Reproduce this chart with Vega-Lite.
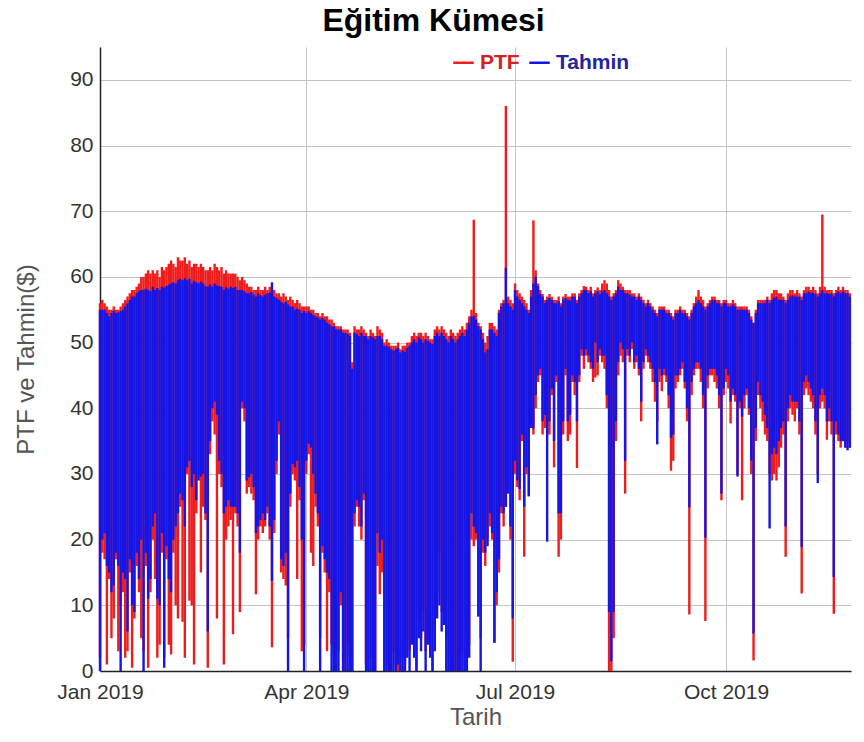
{
  "$schema": "https://vega.github.io/schema/vega-lite/v6.json",
  "width": 751,
  "height": 624,
  "autosize": {"type": "none"},
  "padding": {"left": 100, "top": 47, "right": 13, "bottom": 71},
  "background": "white",
  "config": {"font": "Liberation Sans", "view": {"stroke": null}},
  "title": {"text": "Eğitim Kümesi", "fontSize": 32, "fontWeight": "bold", "color": "#000000", "anchor": "middle", "dx": -42, "offset": 9},
  "data": {"values": [
    {"d":"2019-01-01","ph":56,"pl":2,"th":55,"tl":0},
    {"d":"2019-01-02","ph":56.5,"pl":18,"th":55,"tl":20},
    {"d":"2019-01-03","ph":56,"pl":17,"th":55,"tl":21},
    {"d":"2019-01-04","ph":55.5,"pl":1,"th":54.5,"tl":16},
    {"d":"2019-01-05","ph":55,"pl":14,"th":54,"tl":15},
    {"d":"2019-01-06","ph":55,"pl":5,"th":54.5,"tl":12},
    {"d":"2019-01-07","ph":55.5,"pl":8,"th":54.8,"tl":13},
    {"d":"2019-01-08","ph":55,"pl":17,"th":54.5,"tl":18},
    {"d":"2019-01-09","ph":55,"pl":3,"th":54.6,"tl":16},
    {"d":"2019-01-10","ph":55.5,"pl":10,"th":54.8,"tl":0},
    {"d":"2019-01-11","ph":56,"pl":12,"th":55,"tl":15},
    {"d":"2019-01-12","ph":56.5,"pl":2,"th":55.5,"tl":14},
    {"d":"2019-01-13","ph":57,"pl":3,"th":56,"tl":6},
    {"d":"2019-01-14","ph":57.5,"pl":15,"th":56.5,"tl":17},
    {"d":"2019-01-15","ph":58,"pl":0.5,"th":57,"tl":10},
    {"d":"2019-01-16","ph":58,"pl":8,"th":57,"tl":9},
    {"d":"2019-01-17","ph":58.5,"pl":16,"th":57.5,"tl":18},
    {"d":"2019-01-18","ph":59,"pl":12,"th":57.8,"tl":14},
    {"d":"2019-01-19","ph":60,"pl":5,"th":58,"tl":20},
    {"d":"2019-01-20","ph":60,"pl":3,"th":58,"tl":0},
    {"d":"2019-01-21","ph":60.5,"pl":16,"th":58.2,"tl":18},
    {"d":"2019-01-22","ph":61,"pl":0.5,"th":58,"tl":11},
    {"d":"2019-01-23","ph":60.5,"pl":12,"th":57.8,"tl":14},
    {"d":"2019-01-24","ph":61,"pl":20,"th":58.5,"tl":22},
    {"d":"2019-01-25","ph":60.5,"pl":14,"th":58,"tl":24},
    {"d":"2019-01-26","ph":61,"pl":2,"th":58.3,"tl":11},
    {"d":"2019-01-27","ph":60,"pl":4,"th":58,"tl":10},
    {"d":"2019-01-28","ph":61.5,"pl":18,"th":58.5,"tl":21},
    {"d":"2019-01-29","ph":61,"pl":2,"th":58.4,"tl":0.5},
    {"d":"2019-01-30","ph":61.5,"pl":17,"th":58.6,"tl":19},
    {"d":"2019-01-31","ph":62,"pl":4,"th":58.8,"tl":14},
    {"d":"2019-02-01","ph":62.5,"pl":2.5,"th":59,"tl":12},
    {"d":"2019-02-02","ph":62,"pl":18,"th":59.2,"tl":20},
    {"d":"2019-02-03","ph":61.5,"pl":10,"th":59,"tl":22},
    {"d":"2019-02-04","ph":63,"pl":8,"th":59.5,"tl":24},
    {"d":"2019-02-05","ph":62.5,"pl":25,"th":59.7,"tl":27},
    {"d":"2019-02-06","ph":62.5,"pl":7.5,"th":59.5,"tl":26},
    {"d":"2019-02-07","ph":63,"pl":2,"th":59.8,"tl":22},
    {"d":"2019-02-08","ph":62,"pl":30,"th":59.5,"tl":31},
    {"d":"2019-02-09","ph":62.5,"pl":10.7,"th":59.7,"tl":32},
    {"d":"2019-02-10","ph":61.5,"pl":10,"th":59,"tl":28},
    {"d":"2019-02-11","ph":62,"pl":1,"th":59.4,"tl":30},
    {"d":"2019-02-12","ph":62,"pl":24,"th":59.2,"tl":26},
    {"d":"2019-02-13","ph":61.5,"pl":30,"th":59,"tl":29},
    {"d":"2019-02-14","ph":62,"pl":15,"th":59.3,"tl":29.6},
    {"d":"2019-02-15","ph":61.5,"pl":25,"th":59,"tl":30},
    {"d":"2019-02-16","ph":61,"pl":23,"th":58.6,"tl":24},
    {"d":"2019-02-17","ph":61,"pl":0.5,"th":58.5,"tl":6},
    {"d":"2019-02-18","ph":61.5,"pl":33,"th":58.8,"tl":35},
    {"d":"2019-02-19","ph":61,"pl":38,"th":58.5,"tl":40},
    {"d":"2019-02-20","ph":62,"pl":36,"th":59,"tl":41},
    {"d":"2019-02-21","ph":61.5,"pl":8,"th":58.7,"tl":39},
    {"d":"2019-02-22","ph":61,"pl":30,"th":58.6,"tl":32},
    {"d":"2019-02-23","ph":61.5,"pl":28,"th":58.5,"tl":30},
    {"d":"2019-02-24","ph":60.5,"pl":1,"th":58,"tl":24},
    {"d":"2019-02-25","ph":61,"pl":20,"th":58.4,"tl":25},
    {"d":"2019-02-26","ph":60.5,"pl":22,"th":58.2,"tl":26},
    {"d":"2019-02-27","ph":60.5,"pl":23,"th":58.5,"tl":25},
    {"d":"2019-02-28","ph":60.5,"pl":5.6,"th":58.3,"tl":25},
    {"d":"2019-03-01","ph":60.5,"pl":24,"th":58.5,"tl":25},
    {"d":"2019-03-02","ph":60,"pl":22,"th":58,"tl":24},
    {"d":"2019-03-03","ph":59.5,"pl":9,"th":58,"tl":18},
    {"d":"2019-03-04","ph":60,"pl":40,"th":58,"tl":41},
    {"d":"2019-03-05","ph":59.5,"pl":38,"th":57.8,"tl":40},
    {"d":"2019-03-06","ph":59,"pl":27,"th":57.5,"tl":29},
    {"d":"2019-03-07","ph":58.5,"pl":28,"th":57.5,"tl":29.5},
    {"d":"2019-03-08","ph":58.5,"pl":27,"th":57.7,"tl":30},
    {"d":"2019-03-09","ph":58,"pl":26,"th":57.3,"tl":28},
    {"d":"2019-03-10","ph":58,"pl":11.7,"th":57,"tl":21},
    {"d":"2019-03-11","ph":58.5,"pl":20,"th":57.5,"tl":22},
    {"d":"2019-03-12","ph":58,"pl":22,"th":57.2,"tl":23},
    {"d":"2019-03-13","ph":58,"pl":21,"th":57,"tl":24},
    {"d":"2019-03-14","ph":58.5,"pl":22,"th":57.3,"tl":23},
    {"d":"2019-03-15","ph":58,"pl":24,"th":57.5,"tl":25},
    {"d":"2019-03-16","ph":58.5,"pl":20,"th":57.6,"tl":22},
    {"d":"2019-03-17","ph":58,"pl":3.6,"th":59.2,"tl":13.7},
    {"d":"2019-03-18","ph":58,"pl":21,"th":57,"tl":23},
    {"d":"2019-03-19","ph":57.5,"pl":30,"th":56.8,"tl":32},
    {"d":"2019-03-20","ph":57.5,"pl":36,"th":56.5,"tl":38},
    {"d":"2019-03-21","ph":57,"pl":15,"th":56.2,"tl":17},
    {"d":"2019-03-22","ph":57.5,"pl":14,"th":56,"tl":16},
    {"d":"2019-03-23","ph":57,"pl":13,"th":56.2,"tl":18},
    {"d":"2019-03-24","ph":56.5,"pl":5,"th":55.8,"tl":0},
    {"d":"2019-03-25","ph":57,"pl":25,"th":55.5,"tl":27},
    {"d":"2019-03-26","ph":56.5,"pl":30,"th":55.5,"tl":31.5},
    {"d":"2019-03-27","ph":56,"pl":29,"th":55,"tl":31},
    {"d":"2019-03-28","ph":56.5,"pl":14,"th":55.2,"tl":32},
    {"d":"2019-03-29","ph":56,"pl":26,"th":55,"tl":28},
    {"d":"2019-03-30","ph":55.5,"pl":3,"th":54.5,"tl":20},
    {"d":"2019-03-31","ph":55.5,"pl":4,"th":54.8,"tl":0},
    {"d":"2019-04-01","ph":55.5,"pl":30,"th":54.5,"tl":32},
    {"d":"2019-04-02","ph":55.5,"pl":33,"th":54.8,"tl":34.6},
    {"d":"2019-04-03","ph":55,"pl":18,"th":54.5,"tl":34},
    {"d":"2019-04-04","ph":55,"pl":16,"th":54.2,"tl":30},
    {"d":"2019-04-05","ph":54.5,"pl":25,"th":54,"tl":27},
    {"d":"2019-04-06","ph":54.5,"pl":22,"th":53.8,"tl":24},
    {"d":"2019-04-07","ph":54,"pl":5,"th":53.5,"tl":0},
    {"d":"2019-04-08","ph":54.5,"pl":18,"th":53.8,"tl":19},
    {"d":"2019-04-09","ph":54,"pl":15,"th":53.5,"tl":17},
    {"d":"2019-04-10","ph":54,"pl":3,"th":53,"tl":15},
    {"d":"2019-04-11","ph":53.5,"pl":12,"th":52.8,"tl":14},
    {"d":"2019-04-12","ph":53.5,"pl":4,"th":52.5,"tl":0},
    {"d":"2019-04-13","ph":53,"pl":2,"th":52.5,"tl":0},
    {"d":"2019-04-14","ph":52.5,"pl":0,"th":52,"tl":0},
    {"d":"2019-04-15","ph":52.5,"pl":3,"th":52,"tl":0},
    {"d":"2019-04-16","ph":52.5,"pl":10,"th":52,"tl":12},
    {"d":"2019-04-17","ph":52,"pl":2,"th":51.5,"tl":0},
    {"d":"2019-04-18","ph":52,"pl":0,"th":51.5,"tl":0},
    {"d":"2019-04-19","ph":52,"pl":4,"th":51.3,"tl":0},
    {"d":"2019-04-20","ph":51.5,"pl":3,"th":51,"tl":0},
    {"d":"2019-04-21","ph":47,"pl":0,"th":46,"tl":0},
    {"d":"2019-04-22","ph":52.5,"pl":22,"th":51.5,"tl":24},
    {"d":"2019-04-23","ph":52,"pl":25,"th":51.3,"tl":26},
    {"d":"2019-04-24","ph":52,"pl":22,"th":51,"tl":25},
    {"d":"2019-04-25","ph":52.5,"pl":20,"th":51.5,"tl":22},
    {"d":"2019-04-26","ph":52,"pl":26,"th":51,"tl":27},
    {"d":"2019-04-27","ph":51.5,"pl":1,"th":51,"tl":0},
    {"d":"2019-04-28","ph":51,"pl":0,"th":50.5,"tl":0},
    {"d":"2019-04-29","ph":52,"pl":2,"th":51,"tl":0},
    {"d":"2019-04-30","ph":51.5,"pl":0,"th":50.8,"tl":0},
    {"d":"2019-05-01","ph":51,"pl":0,"th":50.5,"tl":0},
    {"d":"2019-05-02","ph":52.5,"pl":16,"th":51,"tl":21},
    {"d":"2019-05-03","ph":52,"pl":11.7,"th":51,"tl":18},
    {"d":"2019-05-04","ph":51.5,"pl":15,"th":50.5,"tl":20},
    {"d":"2019-05-05","ph":50,"pl":0,"th":49.5,"tl":0},
    {"d":"2019-05-06","ph":50.5,"pl":1,"th":49.5,"tl":0},
    {"d":"2019-05-07","ph":50,"pl":2,"th":49.3,"tl":0},
    {"d":"2019-05-08","ph":49.5,"pl":0,"th":49,"tl":0},
    {"d":"2019-05-09","ph":49.5,"pl":3,"th":48.8,"tl":0},
    {"d":"2019-05-10","ph":49.5,"pl":1,"th":49,"tl":0},
    {"d":"2019-05-11","ph":50,"pl":0,"th":49.2,"tl":1},
    {"d":"2019-05-12","ph":49,"pl":0,"th":48.5,"tl":0},
    {"d":"2019-05-13","ph":49.5,"pl":2,"th":48.8,"tl":0},
    {"d":"2019-05-14","ph":49.5,"pl":1,"th":48.6,"tl":0},
    {"d":"2019-05-15","ph":50,"pl":5,"th":49.2,"tl":2},
    {"d":"2019-05-16","ph":50,"pl":3,"th":49.5,"tl":0},
    {"d":"2019-05-17","ph":51,"pl":6,"th":50,"tl":4},
    {"d":"2019-05-18","ph":51.5,"pl":4,"th":50.5,"tl":2},
    {"d":"2019-05-19","ph":51,"pl":0,"th":50,"tl":0},
    {"d":"2019-05-20","ph":51.5,"pl":8,"th":50.8,"tl":5},
    {"d":"2019-05-21","ph":51.5,"pl":5,"th":50.5,"tl":3},
    {"d":"2019-05-22","ph":51,"pl":9,"th":50,"tl":6},
    {"d":"2019-05-23","ph":51.5,"pl":3,"th":50.5,"tl":0},
    {"d":"2019-05-24","ph":51,"pl":7,"th":50.2,"tl":4},
    {"d":"2019-05-25","ph":50.5,"pl":4,"th":50,"tl":2},
    {"d":"2019-05-26","ph":50.5,"pl":0,"th":49.8,"tl":0},
    {"d":"2019-05-27","ph":52,"pl":6,"th":51,"tl":3},
    {"d":"2019-05-28","ph":52.5,"pl":12,"th":51.5,"tl":8},
    {"d":"2019-05-29","ph":52,"pl":18,"th":51,"tl":10},
    {"d":"2019-05-30","ph":52.5,"pl":9,"th":51.5,"tl":6},
    {"d":"2019-05-31","ph":52,"pl":14,"th":51,"tl":7},
    {"d":"2019-06-01","ph":51.5,"pl":5,"th":50.5,"tl":0},
    {"d":"2019-06-02","ph":51,"pl":0,"th":50,"tl":0},
    {"d":"2019-06-03","ph":52,"pl":2,"th":51,"tl":0},
    {"d":"2019-06-04","ph":51.5,"pl":0,"th":50.5,"tl":0},
    {"d":"2019-06-05","ph":51,"pl":0,"th":50,"tl":0},
    {"d":"2019-06-06","ph":51.5,"pl":0,"th":50.5,"tl":0},
    {"d":"2019-06-07","ph":52,"pl":1,"th":51,"tl":0},
    {"d":"2019-06-08","ph":52.5,"pl":3,"th":51.5,"tl":0},
    {"d":"2019-06-09","ph":52,"pl":0,"th":51,"tl":0},
    {"d":"2019-06-10","ph":53,"pl":3,"th":52,"tl":0},
    {"d":"2019-06-11","ph":54,"pl":4,"th":53,"tl":2},
    {"d":"2019-06-12","ph":55,"pl":20,"th":54,"tl":24},
    {"d":"2019-06-13","ph":68.7,"pl":19,"th":54,"tl":22},
    {"d":"2019-06-14","ph":54.5,"pl":20,"th":53.5,"tl":21},
    {"d":"2019-06-15","ph":53,"pl":8.3,"th":52.5,"tl":8.3},
    {"d":"2019-06-16","ph":52.5,"pl":5,"th":52,"tl":0},
    {"d":"2019-06-17","ph":51.5,"pl":18,"th":50.5,"tl":20},
    {"d":"2019-06-18","ph":50,"pl":16,"th":48.5,"tl":18},
    {"d":"2019-06-19","ph":51,"pl":20,"th":49,"tl":19},
    {"d":"2019-06-20","ph":53,"pl":22,"th":52,"tl":24},
    {"d":"2019-06-21","ph":53,"pl":20,"th":52,"tl":21},
    {"d":"2019-06-22","ph":52.5,"pl":4.3,"th":51.5,"tl":4.3},
    {"d":"2019-06-23","ph":52,"pl":10,"th":51,"tl":12},
    {"d":"2019-06-24","ph":55,"pl":15,"th":54.5,"tl":17},
    {"d":"2019-06-25","ph":56,"pl":24,"th":55.5,"tl":25},
    {"d":"2019-06-26","ph":56.5,"pl":22,"th":56,"tl":24},
    {"d":"2019-06-27","ph":86,"pl":25,"th":61.4,"tl":25},
    {"d":"2019-06-28","ph":57,"pl":28,"th":56,"tl":27},
    {"d":"2019-06-29","ph":56.5,"pl":20,"th":55.5,"tl":22},
    {"d":"2019-06-30","ph":56,"pl":1.4,"th":55,"tl":8},
    {"d":"2019-07-01","ph":59,"pl":30,"th":58,"tl":32},
    {"d":"2019-07-02","ph":58,"pl":28,"th":57,"tl":29},
    {"d":"2019-07-03","ph":57.5,"pl":26,"th":56.5,"tl":27.7},
    {"d":"2019-07-04","ph":57,"pl":35,"th":56,"tl":36},
    {"d":"2019-07-05","ph":56.5,"pl":17.4,"th":55.5,"tl":25},
    {"d":"2019-07-06","ph":56,"pl":30,"th":55,"tl":31},
    {"d":"2019-07-07","ph":55,"pl":26.6,"th":54.5,"tl":26.6},
    {"d":"2019-07-08","ph":58,"pl":38,"th":57,"tl":37},
    {"d":"2019-07-09","ph":68.6,"pl":36,"th":59,"tl":36.9},
    {"d":"2019-07-10","ph":61,"pl":40,"th":60,"tl":42},
    {"d":"2019-07-11","ph":59,"pl":44,"th":58.6,"tl":45},
    {"d":"2019-07-12","ph":58,"pl":45,"th":57.4,"tl":46},
    {"d":"2019-07-13","ph":57.4,"pl":36,"th":57,"tl":38},
    {"d":"2019-07-14","ph":56.5,"pl":37,"th":56,"tl":39},
    {"d":"2019-07-15","ph":57,"pl":36,"th":56.5,"tl":19.7},
    {"d":"2019-07-16","ph":57.4,"pl":36,"th":56.8,"tl":38},
    {"d":"2019-07-17","ph":57,"pl":42,"th":56.5,"tl":43},
    {"d":"2019-07-18","ph":56.5,"pl":31,"th":56,"tl":35},
    {"d":"2019-07-19","ph":56.5,"pl":44,"th":56,"tl":45},
    {"d":"2019-07-20","ph":57,"pl":17.4,"th":56.3,"tl":24},
    {"d":"2019-07-21","ph":56,"pl":20,"th":55.5,"tl":24},
    {"d":"2019-07-22","ph":57,"pl":36,"th":56.5,"tl":38},
    {"d":"2019-07-23","ph":57.4,"pl":45,"th":56.8,"tl":46},
    {"d":"2019-07-24","ph":57,"pl":35,"th":56.5,"tl":38},
    {"d":"2019-07-25","ph":57,"pl":36,"th":56.4,"tl":39},
    {"d":"2019-07-26","ph":57.5,"pl":44,"th":57,"tl":45},
    {"d":"2019-07-27","ph":57.5,"pl":42,"th":57,"tl":44},
    {"d":"2019-07-28","ph":56.5,"pl":30.9,"th":56,"tl":38},
    {"d":"2019-07-29","ph":57.5,"pl":44,"th":57,"tl":45},
    {"d":"2019-07-30","ph":58,"pl":48,"th":57.5,"tl":49},
    {"d":"2019-07-31","ph":58.6,"pl":46,"th":58,"tl":48},
    {"d":"2019-08-01","ph":58.5,"pl":48,"th":58,"tl":49},
    {"d":"2019-08-02","ph":58,"pl":47,"th":57.5,"tl":48},
    {"d":"2019-08-03","ph":58.5,"pl":46,"th":57.8,"tl":47},
    {"d":"2019-08-04","ph":57.5,"pl":44,"th":57,"tl":46},
    {"d":"2019-08-05","ph":58,"pl":44.7,"th":57.5,"tl":50},
    {"d":"2019-08-06","ph":58.4,"pl":45,"th":57.8,"tl":47},
    {"d":"2019-08-07","ph":58,"pl":48,"th":57.4,"tl":49},
    {"d":"2019-08-08","ph":59,"pl":47,"th":57.8,"tl":48},
    {"d":"2019-08-09","ph":59.5,"pl":46,"th":58,"tl":48},
    {"d":"2019-08-10","ph":59,"pl":40,"th":57.5,"tl":42},
    {"d":"2019-08-11","ph":58,"pl":0,"th":57,"tl":9},
    {"d":"2019-08-12","ph":57,"pl":0,"th":56.5,"tl":1.5},
    {"d":"2019-08-13","ph":57.5,"pl":5,"th":57,"tl":9},
    {"d":"2019-08-14","ph":58,"pl":35,"th":57.5,"tl":38},
    {"d":"2019-08-15","ph":59.5,"pl":45,"th":58.5,"tl":47},
    {"d":"2019-08-16","ph":59,"pl":48,"th":58,"tl":50},
    {"d":"2019-08-17","ph":58.5,"pl":47,"th":58,"tl":49},
    {"d":"2019-08-18","ph":58,"pl":27,"th":57.5,"tl":32},
    {"d":"2019-08-19","ph":58,"pl":48,"th":57.5,"tl":49},
    {"d":"2019-08-20","ph":58,"pl":47,"th":57.3,"tl":48},
    {"d":"2019-08-21","ph":57.5,"pl":49,"th":57,"tl":50},
    {"d":"2019-08-22","ph":57.5,"pl":46,"th":57,"tl":47},
    {"d":"2019-08-23","ph":57,"pl":47,"th":56.5,"tl":48},
    {"d":"2019-08-24","ph":57.5,"pl":45,"th":57,"tl":46},
    {"d":"2019-08-25","ph":57,"pl":38,"th":56.5,"tl":41},
    {"d":"2019-08-26","ph":56.5,"pl":46,"th":56,"tl":47},
    {"d":"2019-08-27","ph":56,"pl":48,"th":55.5,"tl":49},
    {"d":"2019-08-28","ph":56.5,"pl":47,"th":56,"tl":48},
    {"d":"2019-08-29","ph":56,"pl":46,"th":55.5,"tl":47},
    {"d":"2019-08-30","ph":55.5,"pl":44,"th":55,"tl":46},
    {"d":"2019-08-31","ph":55,"pl":41,"th":54.5,"tl":44},
    {"d":"2019-09-01","ph":54.5,"pl":38,"th":54,"tl":34.5},
    {"d":"2019-09-02","ph":55.5,"pl":44,"th":55,"tl":46},
    {"d":"2019-09-03","ph":55.5,"pl":42.6,"th":55,"tl":45},
    {"d":"2019-09-04","ph":55.5,"pl":45,"th":55,"tl":46},
    {"d":"2019-09-05","ph":55,"pl":44,"th":54.5,"tl":45},
    {"d":"2019-09-06","ph":55,"pl":40,"th":54.5,"tl":42},
    {"d":"2019-09-07","ph":54.5,"pl":30.5,"th":54,"tl":35.5},
    {"d":"2019-09-08","ph":54,"pl":32,"th":53.5,"tl":36},
    {"d":"2019-09-09","ph":55,"pl":43,"th":54.5,"tl":45},
    {"d":"2019-09-10","ph":55,"pl":44,"th":54.5,"tl":45},
    {"d":"2019-09-11","ph":55.5,"pl":45,"th":55,"tl":46},
    {"d":"2019-09-12","ph":55,"pl":46,"th":54.5,"tl":47},
    {"d":"2019-09-13","ph":55,"pl":43,"th":54.5,"tl":44},
    {"d":"2019-09-14","ph":54.5,"pl":38,"th":54,"tl":40},
    {"d":"2019-09-15","ph":54,"pl":8.6,"th":53.5,"tl":24.9},
    {"d":"2019-09-16","ph":55,"pl":42,"th":54.5,"tl":44},
    {"d":"2019-09-17","ph":56,"pl":45,"th":55.5,"tl":46},
    {"d":"2019-09-18","ph":57,"pl":46,"th":56,"tl":47},
    {"d":"2019-09-19","ph":58,"pl":46,"th":56.5,"tl":47},
    {"d":"2019-09-20","ph":57,"pl":44,"th":56,"tl":46},
    {"d":"2019-09-21","ph":56.5,"pl":40,"th":55.5,"tl":42},
    {"d":"2019-09-22","ph":55.5,"pl":7.6,"th":55,"tl":20.3},
    {"d":"2019-09-23","ph":56,"pl":43,"th":55.5,"tl":45},
    {"d":"2019-09-24","ph":56.5,"pl":45,"th":56,"tl":46},
    {"d":"2019-09-25","ph":57,"pl":45,"th":56.5,"tl":46},
    {"d":"2019-09-26","ph":57,"pl":44,"th":56.5,"tl":46},
    {"d":"2019-09-27","ph":56.5,"pl":43,"th":56,"tl":45},
    {"d":"2019-09-28","ph":56.5,"pl":40,"th":56,"tl":42},
    {"d":"2019-09-29","ph":56,"pl":26,"th":55.5,"tl":27},
    {"d":"2019-09-30","ph":56.5,"pl":42,"th":56,"tl":43},
    {"d":"2019-10-01","ph":56.5,"pl":44,"th":56,"tl":46},
    {"d":"2019-10-02","ph":56,"pl":43,"th":55.5,"tl":45},
    {"d":"2019-10-03","ph":56,"pl":37.7,"th":55.5,"tl":41},
    {"d":"2019-10-04","ph":56.5,"pl":42,"th":55.8,"tl":43},
    {"d":"2019-10-05","ph":56,"pl":41,"th":55.5,"tl":42},
    {"d":"2019-10-06","ph":55.5,"pl":30,"th":55,"tl":29.6},
    {"d":"2019-10-07","ph":55.5,"pl":40,"th":55,"tl":41},
    {"d":"2019-10-08","ph":55.5,"pl":26,"th":55,"tl":38.7},
    {"d":"2019-10-09","ph":55.5,"pl":40,"th":55,"tl":42},
    {"d":"2019-10-10","ph":55.5,"pl":42,"th":55,"tl":43},
    {"d":"2019-10-11","ph":55,"pl":39,"th":54.5,"tl":40},
    {"d":"2019-10-12","ph":54,"pl":30,"th":53.5,"tl":32},
    {"d":"2019-10-13","ph":53,"pl":1.6,"th":53,"tl":5.7},
    {"d":"2019-10-14","ph":55,"pl":35,"th":54.5,"tl":37},
    {"d":"2019-10-15","ph":56.5,"pl":42,"th":56,"tl":44},
    {"d":"2019-10-16","ph":56.5,"pl":40,"th":56,"tl":42},
    {"d":"2019-10-17","ph":56.5,"pl":38,"th":56,"tl":41},
    {"d":"2019-10-18","ph":56.5,"pl":36,"th":56,"tl":39},
    {"d":"2019-10-19","ph":57,"pl":35,"th":56.5,"tl":37},
    {"d":"2019-10-20","ph":56.5,"pl":30,"th":56,"tl":21.7},
    {"d":"2019-10-21","ph":57.5,"pl":29,"th":56.5,"tl":33},
    {"d":"2019-10-22","ph":58,"pl":30,"th":56.8,"tl":34},
    {"d":"2019-10-23","ph":58,"pl":29,"th":57,"tl":33},
    {"d":"2019-10-24","ph":57.5,"pl":31,"th":56.5,"tl":35},
    {"d":"2019-10-25","ph":57.5,"pl":34,"th":56.5,"tl":37},
    {"d":"2019-10-26","ph":57,"pl":36,"th":56.5,"tl":38},
    {"d":"2019-10-27","ph":56.5,"pl":17.4,"th":56,"tl":22},
    {"d":"2019-10-28","ph":57.5,"pl":38,"th":56.5,"tl":40},
    {"d":"2019-10-29","ph":58,"pl":40,"th":57,"tl":42},
    {"d":"2019-10-30","ph":58,"pl":39,"th":57.2,"tl":41},
    {"d":"2019-10-31","ph":57.5,"pl":38,"th":57,"tl":41},
    {"d":"2019-11-01","ph":58,"pl":40,"th":57,"tl":41},
    {"d":"2019-11-02","ph":57.5,"pl":36,"th":57,"tl":38},
    {"d":"2019-11-03","ph":57,"pl":11.8,"th":56.5,"tl":18.9},
    {"d":"2019-11-04","ph":58,"pl":42,"th":57.5,"tl":44},
    {"d":"2019-11-05","ph":58.5,"pl":43,"th":57.5,"tl":45},
    {"d":"2019-11-06","ph":58.5,"pl":42,"th":57.8,"tl":44},
    {"d":"2019-11-07","ph":58,"pl":41,"th":57.5,"tl":43},
    {"d":"2019-11-08","ph":58.5,"pl":40,"th":57.6,"tl":42},
    {"d":"2019-11-09","ph":58,"pl":36,"th":57.4,"tl":38},
    {"d":"2019-11-10","ph":57.5,"pl":30,"th":57,"tl":28.6},
    {"d":"2019-11-11","ph":58.5,"pl":40,"th":57.5,"tl":42},
    {"d":"2019-11-12","ph":69.5,"pl":41,"th":58,"tl":43},
    {"d":"2019-11-13","ph":58.5,"pl":40,"th":57.5,"tl":42},
    {"d":"2019-11-14","ph":58,"pl":35.2,"th":57.5,"tl":38},
    {"d":"2019-11-15","ph":58,"pl":38,"th":57.4,"tl":40},
    {"d":"2019-11-16","ph":58,"pl":36,"th":57.5,"tl":38},
    {"d":"2019-11-17","ph":57.5,"pl":8.7,"th":57,"tl":14.3},
    {"d":"2019-11-18","ph":58,"pl":36,"th":57.5,"tl":38},
    {"d":"2019-11-19","ph":58.5,"pl":35,"th":57.8,"tl":36},
    {"d":"2019-11-20","ph":58,"pl":34,"th":57.5,"tl":35},
    {"d":"2019-11-21","ph":58.5,"pl":35,"th":57.8,"tl":35},
    {"d":"2019-11-22","ph":58,"pl":34,"th":57.5,"tl":34},
    {"d":"2019-11-23","ph":58,"pl":35,"th":57.5,"tl":33.6},
    {"d":"2019-11-24","ph":57.5,"pl":34,"th":57,"tl":34}
  ]},
  "encoding": {
    "x": {
      "field": "d",
      "type": "temporal",
      "scale": {"type": "utc", "domain": [1546300800000, 1574596800000]},
      "axis": {
        "values": [1546300800000, 1554076800000, 1561939200000, 1569888000000],
        "format": "%b %Y",
        "title": "Tarih",
        "grid": true,
        "gridColor": "#c4c4c4",
        "gridWidth": 1,
        "domainColor": "#222222",
        "domainWidth": 1.5,
        "ticks": false,
        "labelPadding": 10,
        "labelFontSize": 21,
        "labelColor": "#333333",
        "labelFlush": false,
        "labelOverlap": false,
        "titleFontSize": 24,
        "titleFontWeight": "normal",
        "titleColor": "#555555",
        "titlePadding": 3
      }
    }
  },
  "layer": [
    {
      "mark": {"type": "rule", "strokeWidth": 2.4, "strokeCap": "butt"},
      "encoding": {
        "y": {
          "field": "pl",
          "type": "quantitative",
          "scale": {"domain": [0, 95], "nice": false, "zero": true},
          "axis": {
            "values": [0, 10, 20, 30, 40, 50, 60, 70, 80, 90],
            "title": "PTF ve Tahmin($)",
            "grid": true,
            "gridColor": "#c4c4c4",
            "gridWidth": 1,
            "domainColor": "#222222",
            "domainWidth": 1.5,
            "ticks": false,
            "labelPadding": 7,
            "labelFontSize": 21,
            "labelColor": "#333333",
            "titleFontSize": 24,
            "titleFontWeight": "normal",
            "titleColor": "#555555",
            "titlePadding": 31
          }
        },
        "y2": {"field": "ph"},
        "color": {
          "datum": "PTF",
          "type": "nominal",
          "scale": {"domain": ["PTF", "Tahmin"], "range": ["#ee1c1c", "#1515e6"]},
          "legend": {
            "orient": "none",
            "legendX": 352,
            "legendY": 4,
            "direction": "horizontal",
            "title": null,
            "symbolType": "stroke",
            "symbolSize": 420,
            "symbolStrokeWidth": 2.5,
            "labelFontSize": 21,
            "labelFontWeight": "bold",
            "labelOffset": 5,
            "columnPadding": 4,
            "encode": {
              "labels": {"update": {"fill": {"signal": "datum.value === 'PTF' ? '#d42020' : '#25259a'"}}},
              "symbols": {"update": {"stroke": {"signal": "datum.value === 'PTF' ? '#c82828' : '#1e1e8c'"}}}
            }
          }
        }
      }
    },
    {
      "mark": {"type": "rule", "strokeWidth": 2.4, "strokeCap": "butt"},
      "encoding": {
        "y": {"field": "tl", "type": "quantitative"},
        "y2": {"field": "th"},
        "color": {"datum": "Tahmin", "type": "nominal"}
      }
    }
  ]
}
